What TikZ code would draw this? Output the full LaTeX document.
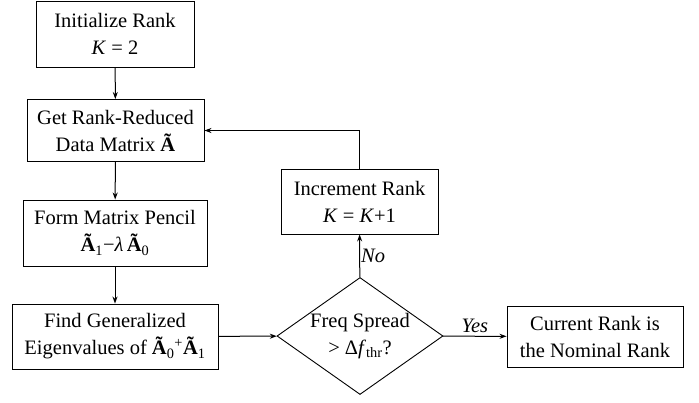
\documentclass[tikz,border=0pt]{standalone}
\usepackage{fontspec}
\setmainfont{Liberation Serif}
\usepackage{tikz}
\usetikzlibrary{shapes.geometric,arrows.meta}

\begin{document}
\begin{tikzpicture}[>={Stealth[width=5pt,length=7pt]}, box/.style={draw, line width=0.9pt, align=center, inner sep=2pt, font=\fontsize{20.5}{27}\selectfont}, test/.style={draw, diamond, line width=0.9pt, align=center, inner sep=0pt, aspect=1.42, font=\fontsize{20.5}{27}\selectfont}, line width=1pt, auto]
\useasboundingbox (0pt, 0pt) rectangle (699pt, -402pt);
\draw (115.0pt, -34.0pt)node[box, minimum width=158pt, minimum height=66pt](0){Initialize Rank\\\textit{K} = 2};
\draw (115.5pt, -130.5pt)node[box, minimum width=177pt, minimum height=62pt](1){Get Rank-Reduced\\Data Matrix \textbf{Ã}};
\draw (115.0pt, -233.0pt)node[box, minimum width=184pt, minimum height=66pt](2){Form Matrix Pencil\\\textbf{Ã}\textsubscript{1}−\textit{λ}\,\textbf{Ã}\textsubscript{0}};
\draw (115.0pt, -336.5pt)node[box, minimum width=206pt, minimum height=65pt](3){Find Generalized\\Eigenvalues of \textbf{Ã}\textsubscript{0}\textsuperscript{+}\textbf{Ã}\textsubscript{1}};
\draw (360.0pt, -336.0pt)node[test, minimum width=166pt, minimum height=117pt](4){Freq Spread\\> Δ\textit{f}\textsubscript{thr}?};
\draw (359.5pt, -201.5pt)node[box, minimum width=157pt, minimum height=65pt](5){Increment Rank\\\textit{K} = \textit{K}+1};
\draw (595.0pt, -336.5pt)node[box, minimum width=176pt, minimum height=61pt](6){Current Rank is\\the Nominal Rank};
\path[->] (0) edge (1);
\path[->] (1) edge (2);
\path[->] (2) edge (3);
\path[->] (3) edge (4);
\path[->] (4) edge node[font=\fontsize{20.5}{27}\selectfont\itshape]{Yes}(6);
\path[->] (4) edge node[swap, font=\fontsize{20.5}{27}\selectfont\itshape, inner sep=1pt]{No}(5);
\draw[->] (5.north) |- (1.east);
\end{tikzpicture}
\end{document}
